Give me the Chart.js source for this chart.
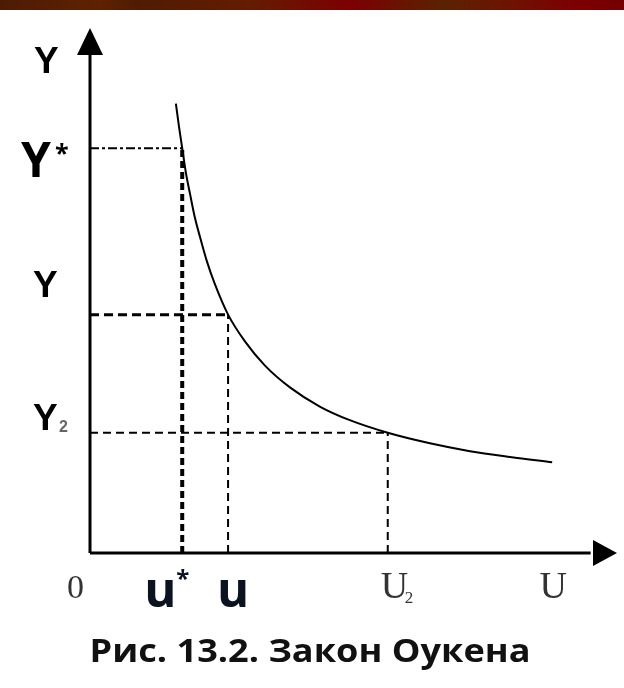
<!DOCTYPE html>
<html lang="ru">
<head>
<meta charset="utf-8">
<title>Закон Оукена</title>
<script src="https://cdn.jsdelivr.net/npm/chart.js@4/dist/chart.umd.min.js"></script>
<style>
    html, body { margin: 0; padding: 0; background: #fff; }
    .wrap { position: relative; width: 624px; height: 688px; overflow: hidden; }
    .top-bar {
        position: absolute; left: 0; top: 0; width: 624px; height: 10px;
        background: linear-gradient(90deg, #4d1b04 0%, #5e2200 16%, #4f1c02 22%, #631d00 40%, #7d0000 56%, #5a2300 71%, #6e1300 82%, #7d0000 92%, #740000 100%);
    }
    #chart { position: absolute; left: 0; top: 0; }
</style>
</head>
<body>
<div class="wrap">
    <canvas id="chart" width="624" height="688"></canvas>
    <div class="top-bar"></div>
</div>
<script>
// ===================================
// DATA
// ===================================

// Curve Y(U) (scale 0..100 on both axes)
const curveU = [16.3, 16.9, 17.5, 18.2, 19.0, 19.9, 20.9, 22.2, 23.7, 26.2, 29.4, 33.2, 38.0, 43.6, 49.3, 56.5, 64.5, 72.1, 79.7, 87.7];
const curveY = [85.6, 81.1, 77.1, 72.4, 68.3, 63.9, 60.1, 55.5, 51.2, 45.4, 40.3, 35.7, 31.5, 27.9, 25.3, 22.9, 20.9, 19.4, 18.3, 17.3];

// Marked levels: Y*, Y, Y2 and u*, u, U2
const outputLevels = [77.1, 45.4, 22.9];
const unemploymentLevels = [17.5, 26.2, 56.5];
const outputLabels = ['Y', '*', 'Y', 'Y', '2'];
const unemploymentLabels = ['0', 'u', '*', 'u', 'U', '2', 'U'];

const axisNameY = 'Y';
const captionText = 'Рис. 13.2. Закон Оукена';

const axisMax = 100;

// ===================================
// DATASETS
// ===================================

function pts(xs, ys) {
    return xs.map((x, i) => ({ x: x, y: ys[i] }));
}

// dash pattern per level (Y* dash-dot, others dashed)
const hDash = [[9, 3, 3, 3], [9, 5], [8, 5]];
const hWidth = [2, 3, 2];
const vDash = [[7, 4], [8, 5], [8, 5]];
const vWidth = [4, 2, 2];

const guideSets = [];
outputLevels.forEach((lvl, i) => {
    const u = unemploymentLevels[i];
    guideSets.push({
        data: pts([0, u], [lvl, lvl]),
        borderColor: '#000', borderWidth: hWidth[i], borderDash: hDash[i],
        pointRadius: 0, showLine: true, clip: false
    });
    guideSets.push({
        data: pts([u, u], [0, lvl]),
        borderColor: '#000', borderWidth: vWidth[i], borderDash: vDash[i],
        pointRadius: 0, showLine: true, clip: false
    });
});

const axisSets = [
    { data: pts([0, 95], [0, 0]), borderColor: '#000', borderWidth: 3, pointRadius: 0, showLine: true, clip: false },
    { data: pts([0, 0], [0, 95]), borderColor: '#000', borderWidth: 3, pointRadius: 0, showLine: true, clip: false }
];

const curveSet = {
    data: pts(curveU, curveY),
    borderColor: '#000', borderWidth: 2, pointRadius: 0, showLine: true,
    cubicInterpolationMode: 'monotone', clip: false
};

// ===================================
// DECORATION PLUGIN (arrows + texts)
// ===================================

const decor = {
    id: 'decor',
    afterDatasetsDraw(chart) {
        const ctx = chart.ctx;
        const xs = chart.scales.x, ys = chart.scales.y;
        const ox = xs.getPixelForValue(0), oy = ys.getPixelForValue(0);
        const tx = xs.getPixelForValue(axisMax), ty = ys.getPixelForValue(axisMax);
        ctx.save();
        ctx.fillStyle = '#000';
        // Y arrow
        ctx.beginPath();
        ctx.moveTo(ox, ty);
        ctx.lineTo(ox - 13, ty + 27);
        ctx.lineTo(ox + 13, ty + 27);
        ctx.closePath();
        ctx.fill();
        // U arrow
        ctx.beginPath();
        ctx.moveTo(tx, oy);
        ctx.lineTo(tx - 24, oy - 13);
        ctx.lineTo(tx - 24, oy + 13);
        ctx.closePath();
        ctx.fill();
        ctx.restore();
    },
    afterDraw(chart) {
        const ctx = chart.ctx;
        const xs = chart.scales.x, ys = chart.scales.y;
        const ox = xs.getPixelForValue(0), oy = ys.getPixelForValue(0);
        const px = unemploymentLevels.map(v => xs.getPixelForValue(v));
        const py = outputLevels.map(v => ys.getPixelForValue(v));
        const sans = '"Liberation Sans", Arial, sans-serif';
        const open = '"Open Sans", sans-serif';
        const serif = '"Liberation Serif", "Times New Roman", serif';

        ctx.save();
        ctx.textAlign = 'left';
        ctx.textBaseline = 'alphabetic';
        ctx.fillStyle = '#000';

        // axis name Y
        ctx.font = 'bold 37px ' + sans;
        ctx.fillText(axisNameY, ox - 56, 73);

        // Y*
        ctx.font = 'bold 48px ' + open;
        ctx.fillText(outputLabels[0], ox - 69, py[0] + 29);
        ctx.font = 'bold 25px ' + open;
        ctx.fillText(outputLabels[1], ox - 35, py[0] + 14);

        // Y
        ctx.font = 'bold 37px ' + sans;
        ctx.fillText(outputLabels[2], ox - 57, py[1] - 18);

        // Y2
        ctx.fillText(outputLabels[3], ox - 57, py[2] - 3);
        ctx.fillStyle = '#666';
        ctx.font = 'bold 16px ' + sans;
        ctx.fillText(outputLabels[4], ox - 31, py[2] - 1);

        // 0
        ctx.fillStyle = '#333';
        ctx.font = '34px ' + serif;
        ctx.fillText(unemploymentLabels[0], ox - 23, oy + 45);

        // u*
        ctx.fillStyle = '#0b1220';
        ctx.font = 'bold 49px ' + open;
        ctx.fillText(unemploymentLabels[1], px[0] - 38, oy + 54);
        ctx.font = 'bold 24px ' + open;
        ctx.fillText(unemploymentLabels[2], px[0] - 6, oy + 34);

        // u
        ctx.font = 'bold 49px ' + open;
        ctx.fillText(unemploymentLabels[3], px[1] - 11, oy + 54);

        // U2
        ctx.fillStyle = '#333';
        ctx.font = '38px ' + serif;
        ctx.fillText(unemploymentLabels[4], px[2] - 7, oy + 45);
        ctx.font = '17px ' + serif;
        ctx.fillText(unemploymentLabels[5], px[2] + 17, oy + 50);

        // U
        ctx.font = '38px ' + serif;
        ctx.fillText(unemploymentLabels[6], xs.getPixelForValue(85.3), oy + 45);

        // caption, stretched to the width it has in the figure
        ctx.fillStyle = '#111';
        ctx.textAlign = 'center';
        ctx.font = 'bold 32px ' + open;
        const w = ctx.measureText(captionText).width;
        const sx = 441 / w;
        ctx.translate(310, 662);
        ctx.scale(sx, 1);
        ctx.fillText(captionText, 0, 0);
        ctx.restore();
    }
};

// ===================================
// CHART
// ===================================

const ctx = document.getElementById('chart').getContext('2d');
const chart = new Chart(ctx, {
    type: 'scatter',
    data: { datasets: [...axisSets, ...guideSets, curveSet] },
    options: {
        responsive: false,
        animation: false,
        devicePixelRatio: 1,
        layout: { padding: { left: 90, right: 7, top: 28, bottom: 135 } },
        plugins: { legend: { display: false }, tooltip: { enabled: false } },
        scales: {
            x: { type: 'linear', min: 0, max: axisMax, display: false },
            y: { type: 'linear', min: 0, max: axisMax, display: false }
        }
    },
    plugins: [decor]
});
</script>
</body>
</html>
